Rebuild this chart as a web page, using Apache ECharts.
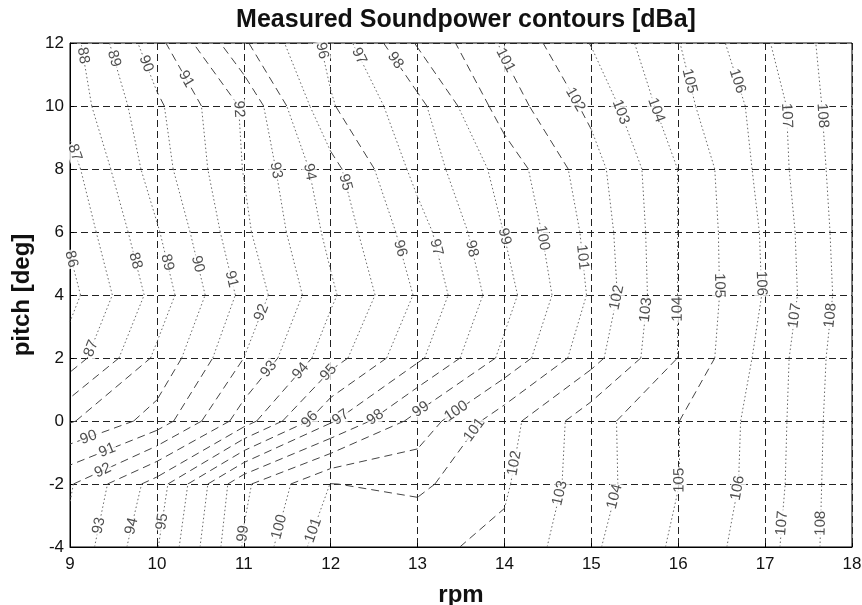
<!DOCTYPE html>
<html><head><meta charset="utf-8">
<script src="https://cdn.jsdelivr.net/npm/echarts@6/dist/echarts.min.js"></script>
<style>html,body{margin:0;padding:0;background:#fff}#c{width:862px;height:605px}</style>
</head><body><div id="c"></div>
<script>
// Measured grid (rpm columns x pitch rows), soundpower in dBA
const rpm = [9, 10, 11, 12, 13, 14, 15, 16, 17, 18];
const pitch = [-4, -2, 0, 2, 4, 6, 8, 10, 12];
const zPitchM4 = [92.24, 94.93, 99.1, 101.7, 101.82, 102.19, 103.84, 105.2, 106.63, 108.8];
const zPitchM2 = [91.9, 94.45, 98.8, 101.02, 100.78, 101.88, 103.57, 104.98, 106.45, 108.83];
const zPitch0  = [88.9, 90.4, 93.5, 96.86, 99.38, 101.6, 103.6, 104.98, 106.4, 108.79];
const zPitch2  = [86.45, 89.2, 92.0, 94.55, 96.8, 99.25, 101.65, 104.02, 106.35, 108.7];
const zPitch4  = [85.67, 88.4, 91.28, 93.83, 96.12, 98.62, 101.14, 104.02, 106.08, 108.55];
const zPitch6  = [86.18, 88.9, 91.78, 94.27, 96.58, 99.03, 101.3, 104.02, 106.14, 108.63];
const zPitch8  = [86.65, 89.53, 92.04, 94.65, 97.33, 99.4, 101.58, 104.02, 106.35, 108.7];
const zPitch10 = [87.4, 89.8, 92.14, 95.9, 97.7, 100.5, 102.25, 104.65, 106.4, 108.85];
const zPitch12 = [87.61, 90.67, 93.86, 96.29, 99.1, 101.16, 103.05, 104.96, 106.88, 108.8];
const levels = [86, 87, 88, 89, 90, 91, 92, 93, 94, 95, 96, 97, 98, 99, 100, 101, 102, 103, 104, 105, 106, 107, 108];
// contour labels: [level, approx rpm, approx pitch] (snapped onto the contour)
const labelSpots = [
 [88,9.15,11.6],[89,9.5,11.5],[90,9.84,11.3],[91,10.3,10.8],[92,10.94,9.9],[96,11.97,11.8],[97,12.3,11.55],[98,12.72,11.4],
 [101,14.01,11.45],[102,14.81,10.2],[103,15.33,9.8],[104,15.73,9.85],[105,16.14,10.8],[106,16.69,10.8],[107,17.27,9.7],[108,17.69,9.7],
 [87,9.03,8.5],[93,11.36,7.95],[94,11.74,7.9],[95,12.2,7.6],
 [86,9.03,5.15],[88,9.77,5.1],[89,10.14,5.05],[90,10.5,5.0],[91,10.88,4.52],[92,11.24,3.41],[96,12.8,5.48],[97,13.24,5.53],[98,13.64,5.48],
 [99,13.99,5.85],[100,14.41,5.8],[101,14.89,5.2],[102,15.33,3.9],[103,15.72,3.5],[104,16.1,3.55],[105,16.5,4.3],[106,16.97,4.37],[107,17.32,3.35],[108,17.75,3.35],
 [87,9.29,2.25],[93,11.28,1.67],[94,11.65,1.6],[95,11.99,1.5],[90,9.21,-0.5],[91,9.41,-0.8],[92,9.36,-1.46],[96,11.71,0.18],[97,12.11,0.13],[98,12.51,0.13],
 [99,13.07,0.24],[100,13.45,0.29],[101,13.66,-0.3],[102,14.14,-1.35],[103,14.66,-2.3],[104,15.27,-2.4],[105,15.98,-1.88],[106,16.71,-2.14],[107,17.21,-3.25],[108,17.67,-3.25],
 [93,9.3,-3.3],[94,9.65,-3.3],[95,10.08,-3.2],[99,10.99,-3.57],[100,11.42,-3.37],[101,11.8,-3.47]
];

const Z = [zPitchM4, zPitchM2, zPitch0, zPitch2, zPitch4, zPitch6, zPitch8, zPitch10, zPitch12];

function contourSegments(level) {
  const segs = [];
  for (let j = 0; j < pitch.length - 1; j++) {
    for (let i = 0; i < rpm.length - 1; i++) {
      const A = [rpm[i], pitch[j]], B = [rpm[i + 1], pitch[j]], C = [rpm[i + 1], pitch[j + 1]], D = [rpm[i], pitch[j + 1]];
      const a = Z[j][i], b = Z[j][i + 1], c = Z[j + 1][i + 1], d = Z[j + 1][i];
      const sa = a >= level, sb = b >= level, sc = c >= level, sd = d >= level;
      const ip = (p, q, zp, zq) => { const t = (level - zp) / (zq - zp); return [p[0] + t * (q[0] - p[0]), p[1] + t * (q[1] - p[1])]; };
      const e = [];
      if (sa !== sb) e[0] = ip(A, B, a, b);
      if (sb !== sc) e[1] = ip(B, C, b, c);
      if (sc !== sd) e[2] = ip(C, D, c, d);
      if (sd !== sa) e[3] = ip(D, A, d, a);
      const idx = [0, 1, 2, 3].filter(k => e[k]);
      if (idx.length === 2) segs.push([e[idx[0]], e[idx[1]]]);
      else if (idx.length === 4) {
        const center = (a + b + c + d) / 4 >= level;
        if (sa !== center) { segs.push([e[3], e[0]]); segs.push([e[1], e[2]]); }
        else { segs.push([e[0], e[1]]); segs.push([e[2], e[3]]); }
      }
    }
  }
  return segs;
}

const FONT = 'Liberation Sans, Arial, Helvetica, sans-serif';
const chart = echarts.init(document.getElementById('c'), null, { renderer: 'canvas' });
const axisCommon = {
  axisLine: { show: true, onZero: false, lineStyle: { color: '#000' } },
  axisTick: { inside: true, length: 4, lineStyle: { color: '#000' } },
  splitLine: { show: true, lineStyle: { color: '#222', type: [7, 4], width: 1 } }
};
const base = {
  animation: false,
  backgroundColor: '#fff',
  title: { text: 'Measured Soundpower contours [dBa]', left: 461, top: 3, textAlign: 'center',
    textStyle: { fontFamily: FONT, fontSize: 25, fontWeight: 'bold', color: '#111' } },
  grid: { left: 70, right: 10, top: 43, bottom: 58, containLabel: false, outerBoundsMode: 'none',
    show: true, borderColor: '#000', borderWidth: 1 },
  xAxis: Object.assign({ type: 'value', min: 9, max: 18, interval: 1, name: 'rpm', nameLocation: 'middle', nameGap: 36,
    axisLabel: { fontFamily: FONT, fontSize: 17, color: '#111', margin: 9 },
    nameTextStyle: { fontFamily: FONT, fontSize: 24, fontWeight: 'bold', color: '#111' } }, axisCommon),
  yAxis: Object.assign({ type: 'value', min: -4, max: 12, interval: 2, name: 'pitch [deg]', nameLocation: 'middle', nameGap: 36, nameRotate: 90,
    axisLabel: { fontFamily: FONT, fontSize: 17, color: '#111', margin: 6 },
    nameTextStyle: { fontFamily: FONT, fontSize: 24, fontWeight: 'bold', color: '#111' } }, axisCommon),
  series: []
};
chart.setOption(base);

const toPx = p => chart.convertToPixel({ gridIndex: 0 }, p);
const dotted = [], dashed = [];
const segsByLevel = {};
levels.forEach(L => {
  const segs = contourSegments(L);
  segsByLevel[L] = segs;
  segs.forEach(s => {
    const p1 = toPx(s[0]), p2 = toPx(s[1]);
    const dx = Math.abs(p2[0] - p1[0]), dy = Math.abs(p2[1] - p1[1]);
    (dy > 2.0 * dx ? dotted : dashed).push({ coords: s });
  });
});

const labelData = labelSpots.map(([L, x, y]) => {
  const h = toPx([x, y]);
  let best = null, bd = Infinity;
  (segsByLevel[L] || []).forEach(s => {
    const p1 = toPx(s[0]), p2 = toPx(s[1]);
    const vx = p2[0] - p1[0], vy = p2[1] - p1[1];
    const len2 = vx * vx + vy * vy || 1;
    let t = ((h[0] - p1[0]) * vx + (h[1] - p1[1]) * vy) / len2;
    t = Math.max(0, Math.min(1, t));
    const q = [p1[0] + t * vx, p1[1] + t * vy];
    const dd = (q[0] - h[0]) ** 2 + (q[1] - h[1]) ** 2;
    if (dd < bd) { bd = dd; best = { q, vx, vy }; }
  });
  if (!best) return null;
  let ang = Math.atan2(-best.vy, best.vx) * 180 / Math.PI;
  if (ang > 90) ang -= 180;
  if (ang <= -90) ang += 180;
  const val = chart.convertFromPixel({ gridIndex: 0 }, best.q);
  return { value: [val[0], val[1]], name: String(L), label: { rotate: ang } };
}).filter(Boolean);

chart.setOption({
  series: [
    { type: 'lines', coordinateSystem: 'cartesian2d', silent: true, z: 3, data: dotted,
      lineStyle: { color: '#666', width: 1, type: [1.5, 2.5], opacity: 1 } },
    { type: 'lines', coordinateSystem: 'cartesian2d', silent: true, z: 3, data: dashed,
      lineStyle: { color: '#444', width: 1, type: [8, 5], opacity: 1 } },
    { type: 'scatter', silent: true, z: 5, symbol: 'circle', symbolSize: 1, itemStyle: { color: 'rgba(0,0,0,0)' }, data: labelData,
      label: { show: true, position: 'inside', formatter: p => p.name, fontFamily: FONT, fontSize: 15, color: '#222',
        backgroundColor: '#fff', padding: [0, 1] } }
  ]
});
</script></body></html>
